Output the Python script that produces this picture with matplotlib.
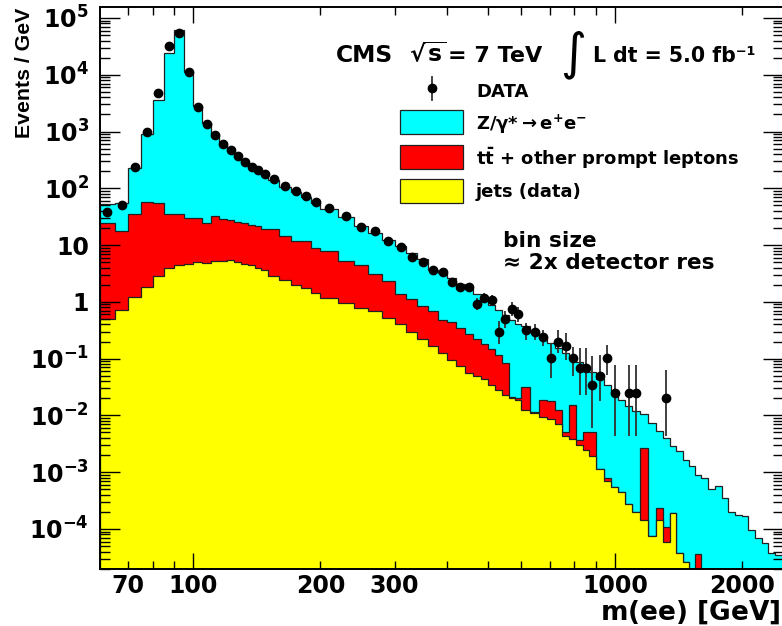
import numpy as np
import matplotlib
matplotlib.use("Agg")
import matplotlib.pyplot as plt
from matplotlib.patches import Rectangle
from matplotlib.lines import Line2D
from matplotlib.ticker import FixedLocator, FuncFormatter, LogLocator, NullFormatter

plt.rcParams['font.family'] = ['DejaVu Sans']
plt.rcParams['font.weight'] = 'bold'
plt.rcParams['mathtext.fontset'] = 'dejavusans'
plt.rcParams['mathtext.default'] = 'bf'

# bin edges in GeV (variable binning, ~2x detector resolution)
edges = np.concatenate([
    np.arange(60, 150, 5), np.arange(150, 200, 10), np.arange(200, 600, 20),
    np.arange(600, 900, 30), np.arange(900, 1100, 40), np.arange(1100, 1600, 50),
    [1600, 1665, 1730, 1795, 1860, 1930, 2000, 2075, 2150, 2230, 2310, 2395, 2500]])

# events / GeV per process
jets = [0.49, 0.73, 1.22, 1.8, 2.8, 4.0, 4.5, 4.7, 5.0, 4.9, 5.2, 5.2, 5.4, 5.0, 4.7, 4.4, 4.0, 3.7,
        2.83, 2.47, 2.0, 1.77, 1.44,
        1.18, 0.96, 0.78, 0.68, 0.52, 0.40, 0.29, 0.22, 0.165, 0.126, 0.096, 0.073, 0.056, 0.049,
        0.043, 0.035, 0.028, 0.023, 0.020, 0.019,
        0.0125, 0.0112, 0.0095, 0.0085, 0.0071, 0.0043, 0.0038, 0.0030, 0.0025, 0.0019,
        0.00115, 0.0007, 0.00055, 0.00045, 0.00028,
        0.0002, 0.000145, 7.4e-5, 0.000145, 6e-5, 0.00019, 3.7e-5, 2.6e-5, 0, 0,
        0, 0, 0, 0, 0, 0, 0, 0, 0, 0, 0, 0]

ttbar = [24.2, 16.9, 33.5, 55.2, 51.2, 31, 31.1, 25.3, 24.5, 19.8, 26.8, 23.8, 22.6, 20.5, 20, 18.1, 17.5, 15.8,
         16, 11.9, 9.7, 9.9, 7.6,
         6.6, 4.2, 3.7, 2.4, 1.8, 1.0, 0.81, 0.62, 0.52, 0.36, 0.34, 0.28, 0.21, 0.17,
         0.14, 0.11, 0.089, 0.061, 0.001, 0.001,
         0.0195, 0.0003, 0.0095, 0.0095, 0.0054, 0.0009, 0.0117, 0.0007, 0.0027, 0.0033,
         0, 8e-5, 0, 0, 0,
         0, 0.0025, 0, 9e-5, 5e-5, 0, 0, 0, 0, 3.6e-5,
         0, 0, 0, 0, 0, 0, 0, 0, 0, 0, 0, 0]

dy = [27.3, 36.4, 196, 861, 3546, 24565, 61664, 11370, 2790, 1415, 888, 611, 452, 334, 260, 210, 178, 150,
      121, 91.6, 74.3, 58.3, 47,
      36.2, 25.8, 17.5, 13.4, 10, 8.1, 6.1, 4.76, 2.92, 2.71, 2.16, 1.7, 1.385, 1.13,
      0.92, 0.736, 0.603, 0.496, 0.459, 0.38,
      0.338, 0.2785, 0.216, 0.172, 0.1425, 0.1228, 0.0925, 0.0843, 0.0668, 0.0518,
      0.0429, 0.0332, 0.0245, 0.0186, 0.0142,
      0.0118, 0.0078, 0.0072, 0.005, 0.0039, 0.0027, 0.0023, 0.0016, 0.00126, 0.00085,
      0.00079, 0.0005, 0.00058, 0.00035, 0.0002, 0.000178, 0.000166, 9.5e-5, 6.9e-5, 5.6e-5, 3.7e-5, 3.5e-5]

data = [38, 51, 237, 980, 4850, 32200, 54000, 11200, 2750, 1380, 880, 612, 466, 370, 294, 240, 209, 176,
        144, 109, 89, 72, 58,
        45.5, 32.4, 21, 17.6, 11.7, 9.3, 6.1, 5.0, 3.6, 3.3, 2.25, 1.81, 1.81, 0.92,
        1.18, 1.07, 0.30, 0.50, 0.76, 0.60,
        0.316, 0.30, 0.24, 0.103, 0.20, 0.17, 0.103, 0.069, 0.069, 0.034,
        0.05, 0.103, 0.025, 0, 0.025,
        0.025, 0, 0, 0, 0.02, 0, 0, 0, 0, 0,
        0, 0, 0, 0, 0, 0, 0, 0, 0, 0, 0, 0]

err_dn = [0] * 28 + [0.65, 0.55, 0.5, 0.42, 0.4, 0.33, 0.3, 0.3, 0.2, 0.23, 0.22, 0.12, 0.15, 0.19, 0.16,
                     0.10, 0.085, 0.075, 0.057, 0.074, 0.074, 0.054, 0.046, 0.046, 0.028,
                     0.032, 0.051, 0.0207, 0, 0.0207,
                     0.0207, 0, 0, 0, 0.0157] + [0] * 17
err_up = [0] * 28 + [0.7, 0.6, 0.55, 0.47, 0.45, 0.38, 0.35, 0.35, 0.23, 0.26, 0.25, 0.16, 0.19, 0.22, 0.2,
                     0.11, 0.10, 0.085, 0.087, 0.12, 0.11, 0.055, 0.086, 0.086, 0.076,
                     0.067, 0.074, 0.053, 0, 0.053,
                     0.053, 0, 0, 0, 0.044] + [0] * 17

x_labels = {70: '70', 200: '200', 300: '300', 2000: '2000'}
colors = {'dy': '#00FFFF', 'tt': '#FF0000', 'jets': '#FFFF00'}
edge_col = '#202020'

W, H = 782, 626
fig = plt.figure(figsize=(W / 100, H / 100), dpi=100)
ax = fig.add_axes([100 / W, 1 - 569 / H, 682.5 / W, 562 / H])

floor = 1e-9
lvl_jets = np.array(jets)
lvl_tt = lvl_jets + np.array(ttbar)
lvl_all = lvl_tt + np.array(dy)
for top, col in [(lvl_all, colors['dy']), (lvl_tt, colors['tt']), (lvl_jets, colors['jets'])]:
    ax.stairs(np.clip(top, floor, None), edges, baseline=floor, fill=True,
              facecolor=col, edgecolor=edge_col, linewidth=0.9)

data = np.array(data)
centers = 0.5 * (edges[:-1] + edges[1:])
m = data > 0
yerr = np.array([err_dn, err_up])[:, m]
ax.errorbar(centers[m], data[m], yerr=yerr, fmt='o', color='black', ms=6,
            elinewidth=1.3, capsize=0, ecolor='#303030')

ax.set_xscale('log')
ax.set_yscale('log')
ax.set_xlim(60, 2500)
ax.set_ylim(1.97e-5, 1.56e5)

ax.xaxis.set_major_locator(FixedLocator([100, 1000]))
ax.xaxis.set_minor_locator(FixedLocator([70, 80, 90, 200, 300, 400, 500, 600, 700, 800, 900, 2000]))
ax.xaxis.set_major_formatter(FuncFormatter(lambda v, p: '%d' % v))
ax.xaxis.set_minor_formatter(FuncFormatter(lambda v, p: x_labels.get(int(round(v)), '')))

ax.yaxis.set_major_locator(FixedLocator([1e-4, 1e-3, 1e-2, 1e-1, 1, 10, 1e2, 1e3, 1e4, 1e5]))
ax.yaxis.set_minor_locator(LogLocator(base=10, subs=np.arange(2, 10), numticks=20))
ax.yaxis.set_minor_formatter(NullFormatter())


def ylab(v, p):
    e = int(round(np.log10(v)))
    if e == 0:
        return '1'
    if e == 1:
        return '10'
    return r'$10^{%d}$' % e


ax.yaxis.set_major_formatter(FuncFormatter(ylab))

ax.tick_params(which='both', direction='in', top=True, right=True, labelsize=17, width=1.0)
ax.tick_params(axis='x', which='major', length=11.5, pad=3.5)
ax.tick_params(axis='x', which='minor', length=5.8, pad=3.5)
ax.tick_params(axis='y', which='major', length=14.5, pad=8)
ax.tick_params(axis='y', which='minor', length=7.2)
for s in ax.spines.values():
    s.set_linewidth(1.4)


def fx(px):
    return px / W


def fy(py):
    return 1 - py / H


fig.text(fx(25), fy(8), 'Events / GeV', rotation=90, ha='center', va='top',
         fontsize=15.3, family='Liberation Sans')
fig.text(fx(780), fy(620), r'm($\mathrm{ee}$) [GeV]', ha='right', va='baseline', fontsize=19)

fig.text(fx(336), fy(62), 'CMS', ha='left', va='baseline', fontsize=16.8)
fig.text(fx(409), fy(62), r'$\sqrt{s}$', ha='left', va='baseline', fontsize=16.8)
fig.text(fx(448), fy(62), '= 7 TeV', ha='left', va='baseline', fontsize=16)
fig.text(fx(573), fy(55), '\u222b', ha='center', va='center', fontsize=36, fontweight='normal')
fig.text(fx(593), fy(62), 'L dt = 5.0 fb\u207b\u00b9', ha='left', va='baseline', fontsize=14.8)
fig.text(fx(503), fy(247), 'bin size', ha='left', va='baseline', fontsize=15.6)
fig.text(fx(503), fy(269), '\u2248 2x detector res', ha='left', va='baseline', fontsize=15.6)

# legend, drawn by hand to follow the original row pitch
fig.add_artist(Line2D([fx(432), fx(432)], [fy(77), fy(100)], color='#303030', lw=1.3))
fig.add_artist(Line2D([fx(432)], [fy(88)], marker='o', ms=6, color='black', ls='none'))
fig.text(fx(476), fy(97), 'DATA', ha='left', va='baseline', fontsize=13)
rows = [(colors['dy'], 110, 130, r'Z/$\mathrm{\gamma}$*$\rightarrow$e$^{+}$e$^{-}$'),
        (colors['tt'], 145, 165, r'$t\bar{t}$ + other prompt leptons'),
        (colors['jets'], 179, 197, 'jets (data)')]
for col, top, base, lab in rows:
    fig.add_artist(Rectangle((fx(400), fy(top + 24)), 63 / W, 24 / H, transform=fig.transFigure,
                             facecolor=col, edgecolor=edge_col, linewidth=0.9))
    fig.text(fx(476), fy(base), lab, ha='left', va='baseline', fontsize=13)

fig.savefig('out.png', dpi=100)
